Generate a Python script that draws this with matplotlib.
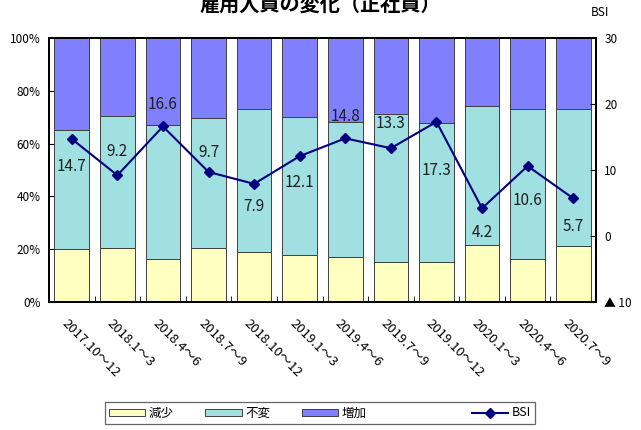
import matplotlib
matplotlib.use("Agg")
import matplotlib.pyplot as plt
from matplotlib.lines import Line2D
from matplotlib.patches import Patch
import matplotlib.transforms as mtransforms
import numpy as np

plt.rcParams['font.family'] = ['Noto Sans CJK JP', 'DejaVu Sans']

categories = ['2017.10～12', '2018.1～3', '2018.4～6', '2018.7～9', '2018.10～12',
              '2019.1～3', '2019.4～6', '2019.7～9', '2019.10～12', '2020.1～3',
              '2020.4～6', '2020.7～9']
decrease = [20.0, 20.3, 16.4, 20.5, 19.0, 17.8, 17.0, 15.3, 15.0, 21.6, 16.3, 21.2]
increase = [34.7, 29.5, 33.0, 30.2, 26.9, 29.9, 31.8, 28.6, 32.3, 25.8, 26.9, 26.9]
unchanged = [100 - d - i for d, i in zip(decrease, increase)]
bsi = [14.7, 9.2, 16.6, 9.7, 7.9, 12.1, 14.8, 13.3, 17.3, 4.2, 10.6, 5.7]
left_ticks = [0, 20, 40, 60, 80, 100]
left_labels = ['0%', '20%', '40%', '60%', '80%', '100%']
right_ticks = [-10, 0, 10, 20, 30]
right_labels = ['▲ 10', '0', '10', '20', '30']

# label vertical offsets in pixels (style)
label_offsets = [-28, 24, 22, 19, -23, -26, 22, 25, -49, -24, -34, -28]

c_dec = '#FFFFC0'
c_unc = '#A0E0E0'
c_inc = '#8080FF'
c_line = '#000080'
edge = '#404040'

fig = plt.figure(figsize=(6.41, 4.30), dpi=100)
ax = fig.add_axes([49/641, 1-302/430, 547/641, 264/430])
x = np.arange(len(categories))
w = 0.76
ax.bar(x, decrease, w, color=c_dec, edgecolor=edge, linewidth=0.7, zorder=2)
ax.bar(x, unchanged, w, bottom=decrease, color=c_unc, edgecolor=edge, linewidth=0.7, zorder=2)
bot2 = [d + u for d, u in zip(decrease, unchanged)]
ax.bar(x, increase, w, bottom=bot2, color=c_inc, edgecolor=edge, linewidth=0.7, zorder=2)
ax.set_xlim(-0.5, len(categories) - 0.5)
ax.set_ylim(0, 100)
ax.set_yticks(left_ticks)
ax.set_yticklabels(left_labels, fontsize=8.5)
ax.tick_params(axis='y', direction='in', length=4, pad=6)
ax.set_xticks(x)
ax.set_xticklabels(categories, fontsize=9.5, rotation=-45, ha='left', va='center',
                   rotation_mode='anchor')
ax.tick_params(axis='x', length=0, pad=14)
offset = mtransforms.ScaledTranslation(-8/100, 0, fig.dpi_scale_trans)
for lab in ax.get_xticklabels():
    lab.set_transform(lab.get_transform() + offset)
ax.set_xticks(np.arange(0.5, len(categories) - 0.5, 1), minor=True)
ax.tick_params(axis='x', which='minor', direction='in', length=4)
for s in ax.spines.values():
    s.set_linewidth(1.4)

ax2 = ax.twinx()
ax2.set_ylim(-10, 30)
ax2.plot(x, bsi, color=c_line, linewidth=1.5, marker='D', markersize=5.5, zorder=5)
ax2.set_yticks(right_ticks)
ax2.set_yticklabels(right_labels, fontsize=8.5)
ax2.tick_params(axis='y', direction='in', length=4, pad=6)
for s in ax2.spines.values():
    s.set_linewidth(1.4)
for xi, v, off in zip(x, bsi, label_offsets):
    ax2.annotate(f'{v:.1f}', (xi, v), xytext=(0, off), textcoords='offset pixels',
                 ha='center', va='center', fontsize=11, color='#202020', zorder=6)

fig.text(600/641, 1-12/430, 'BSI', fontsize=8.5, ha='center', va='center')
fig.text(0.5, 1-11/430, '雇用人員の変化（正社員）', fontsize=14.5, fontweight='bold',
         ha='center', va='baseline')

handles = [Patch(facecolor=c_dec, edgecolor=edge, linewidth=0.7),
           Patch(facecolor=c_unc, edgecolor=edge, linewidth=0.7),
           Patch(facecolor=c_inc, edgecolor=edge, linewidth=0.7),
           Line2D([], [], color='none'),
           Line2D([], [], color=c_line, linewidth=1.5, marker='D', markersize=5)]
labels = ['減少', '不変', '増加', ' ', 'BSI']
leg = fig.legend(handles, labels, loc='center', bbox_to_anchor=(320/641, 1-413/430),
                 ncol=5, fontsize=9, frameon=True, fancybox=False, edgecolor='#404040',
                 handlelength=2.9, handleheight=0.5, handletextpad=0.3,
                 columnspacing=2.5, borderpad=0.35)
leg.get_frame().set_linewidth(0.9)

fig.savefig('out.png', dpi=100)
